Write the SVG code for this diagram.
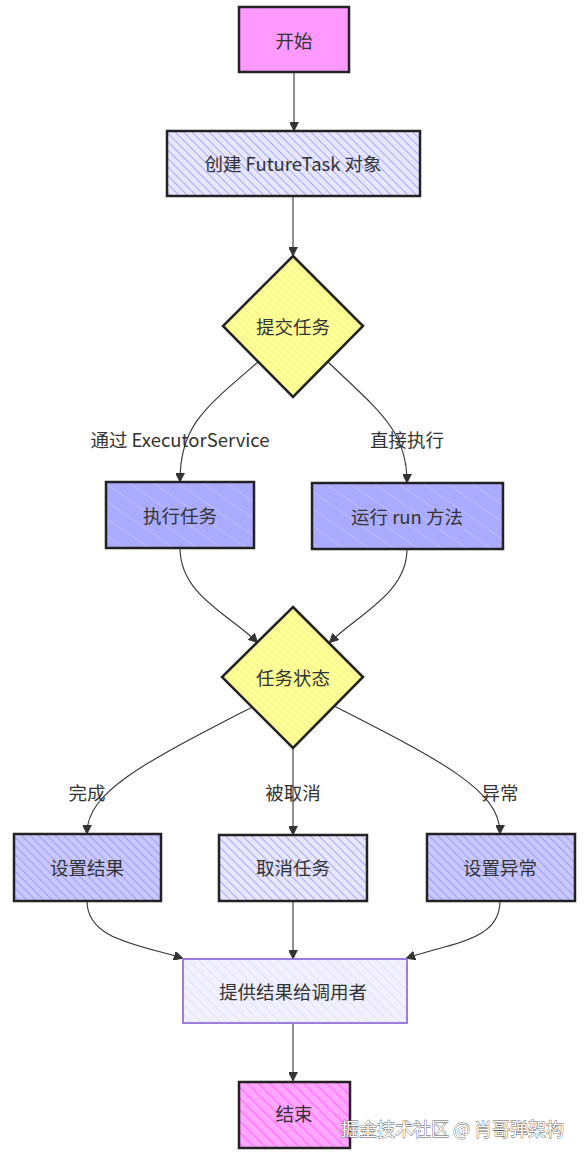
<svg xmlns="http://www.w3.org/2000/svg" width="586" height="1158" viewBox="0 0 586 1158">
<style>
  text { font-family: "Noto Sans CJK SC", "Liberation Sans", sans-serif; font-size: 18.5px; fill: #333; text-anchor: middle; dominant-baseline: central; }
  .node { stroke: #222; stroke-width: 2.5; }
  .edge { fill: none; stroke: #333; stroke-width: 1.1; marker-end: url(#arr); }
  .wm { font-size: 18px; fill: #fff; stroke: #555; stroke-width: 0.8; paint-order: stroke; text-anchor: start; }
</style>
<defs>
  <pattern id="hPink" patternUnits="userSpaceOnUse" width="8" height="8" patternTransform="rotate(-45)">
    <rect width="8" height="8" fill="#ffa6ff"/>
    <line x1="0" y1="0" x2="0" y2="8" stroke="#ff77ff" stroke-width="3"/>
  </pattern>
  <pattern id="hLav" patternUnits="userSpaceOnUse" width="6" height="6" patternTransform="rotate(-45)">
    <rect width="6" height="6" fill="#e6e6ff"/>
    <line x1="0" y1="0" x2="0" y2="6" stroke="#a9a9f2" stroke-width="2"/>
  </pattern>
  <pattern id="hBlue" patternUnits="userSpaceOnUse" width="14" height="14" patternTransform="rotate(-55)">
    <rect width="14" height="14" fill="#aaaaff"/>
    <line x1="0" y1="0" x2="0" y2="14" stroke="#d0d0ff" stroke-width="1"/>
  </pattern>
  <pattern id="hBlueDense" patternUnits="userSpaceOnUse" width="6" height="6" patternTransform="rotate(-45)">
    <rect width="6" height="6" fill="#c8c8ff"/>
    <line x1="0" y1="0" x2="0" y2="6" stroke="#9e9ef5" stroke-width="2.2"/>
  </pattern>
  <pattern id="hYel" patternUnits="userSpaceOnUse" width="5" height="5" patternTransform="rotate(-50)">
    <rect width="5" height="5" fill="#ffff99"/>
    <line x1="0" y1="0" x2="0" y2="5" stroke="#f2f27a" stroke-width="1.5"/>
  </pattern>
  <pattern id="hPale" patternUnits="userSpaceOnUse" width="7" height="7" patternTransform="rotate(-45)">
    <rect width="7" height="7" fill="#f0f0ff"/>
    <line x1="0" y1="0" x2="0" y2="7" stroke="#dcdcf5" stroke-width="1.5"/>
  </pattern>
  <marker id="arr" viewBox="0 0 10 10" refX="9" refY="5" markerWidth="9" markerHeight="9" markerUnits="userSpaceOnUse" orient="auto">
    <path d="M0,0 L10,5 L0,10 Z" fill="#333" stroke="#333" stroke-width="1"/>
  </marker>
</defs>

<g id="edges">
  <path class="edge" d="M294,72 L294,130"/>
  <path class="edge" d="M293,196 L293,255"/>
  <path class="edge" d="M258,362 C205,408 180,425 180,481"/>
  <path class="edge" d="M328,362 C378,410 407,430 407,482"/>
  <path class="edge" d="M180,548 C180,595 230,615 257,642"/>
  <path class="edge" d="M407,549 C407,592 362,612 330,642"/>
  <path class="edge" d="M258,704 C150,760 87,790 87,833"/>
  <path class="edge" d="M293,748 L293,834"/>
  <path class="edge" d="M330,704 C440,760 500,790 500,833"/>
  <path class="edge" d="M87,901 C87,940 140,945 182,958"/>
  <path class="edge" d="M293,901 L293,958"/>
  <path class="edge" d="M500,901 C500,940 455,942 407,958"/>
  <path class="edge" d="M293,1023 L293,1080"/>
  <text x="180" y="439">通过 ExecutorService</text>
  <text x="407" y="439">直接执行</text>
  <text x="87" y="792">完成</text>
  <text x="293" y="792">被取消</text>
  <text x="500" y="792">异常</text>
</g>

<g id="start">
  <rect class="node" x="239" y="7" width="110" height="65" fill="#ff99ff"/>
  <text x="294" y="40">开始</text>
</g>
<g id="create">
  <rect class="node" x="167" y="131" width="253" height="65" fill="url(#hLav)"/>
  <text x="293" y="163">创建 FutureTask 对象</text>
</g>
<g id="submit">
  <polygon class="node" points="293,256 363,326 293,397 223,326" fill="url(#hYel)"/>
  <text x="293" y="326">提交任务</text>
</g>
<g id="exec">
  <rect class="node" x="106" y="482" width="148" height="66" fill="url(#hBlue)"/>
  <text x="180" y="515">执行任务</text>
</g>
<g id="run">
  <rect class="node" x="312" y="483" width="191" height="66" fill="url(#hBlue)"/>
  <text x="407" y="516">运行 run 方法</text>
</g>
<g id="state">
  <polygon class="node" points="293,607 363,677 293,748 222,677" fill="url(#hYel)"/>
  <text x="293" y="677">任务状态</text>
</g>
<g id="setResult">
  <rect class="node" x="14" y="834" width="147" height="67" fill="url(#hBlueDense)"/>
  <text x="87" y="867">设置结果</text>
</g>
<g id="cancel">
  <rect class="node" x="219" y="835" width="148" height="66" fill="url(#hLav)"/>
  <text x="293" y="867">取消任务</text>
</g>
<g id="setEx">
  <rect class="node" x="427" y="834" width="148" height="67" fill="url(#hBlueDense)"/>
  <text x="500" y="867">设置异常</text>
</g>
<g id="provide">
  <rect x="183" y="959" width="224" height="64" fill="url(#hPale)" stroke="#9370db" stroke-width="1.8"/>
  <text x="293" y="991">提供结果给调用者</text>
</g>
<g id="end">
  <rect class="node" x="239" y="1082" width="111" height="66" fill="url(#hPink)"/>
  <text x="294" y="1113">结束</text>
</g>
<text class="wm" x="341" y="1128">掘金技术社区 @ 肖哥弹架构</text>
</svg>
